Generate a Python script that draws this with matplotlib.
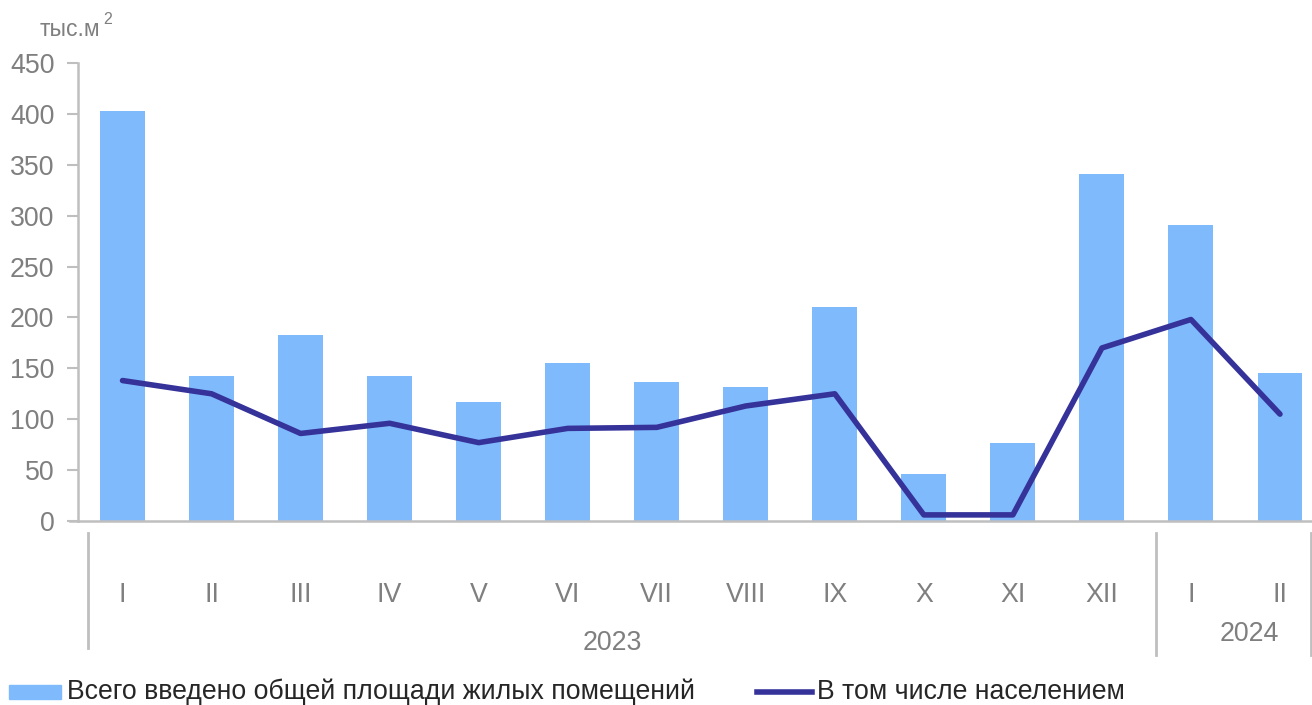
"""
    Ввод жилья по месяцам, 2023-2024
"""

import matplotlib
matplotlib.use('Agg')
import matplotlib.pyplot as plt
from matplotlib.patches import Rectangle
from matplotlib.lines import Line2D
import matplotlib.transforms as mtransforms

plt.rcParams['font.family'] = ['Liberation Sans', 'DejaVu Sans']

# data
months = ['I', 'II', 'III', 'IV', 'V', 'VI', 'VII', 'VIII', 'IX', 'X', 'XI', 'XII', 'I', 'II']
years = ['2023', '2024']
total = [403, 142, 183, 142, 117, 155, 137, 132, 210, 46, 77, 341, 291, 145]
population = [138, 125, 86, 96, 77, 91, 92, 113, 125, 6, 6, 170, 198, 105]
yticks = [0, 50, 100, 150, 200, 250, 300, 350, 400, 450]

bar_color = '#7FBAFC'
line_color = '#35329A'
grey = '#7F7F7F'
axis_grey = '#BFBFBF'
fs = 19.3

W, H = 1312, 705
fig = plt.figure(figsize=(W / 100, H / 100), dpi=100)
ax = fig.add_axes([78 / W, (H - 521) / H, 1246.5 / W, (521 - 63) / H])

x = list(range(len(months)))
ax.bar(x, total, width=0.505, color=bar_color, zorder=2)
ax.plot(x, population, color=line_color, lw=4, solid_capstyle='round',
        solid_joinstyle='round', zorder=3)

ax.set_xlim(-0.5, len(months) - 0.5)
ax.set_ylim(0, 450)
ax.set_yticks(yticks)
ax.tick_params(axis='y', labelsize=fs, colors=grey, length=8, width=1.5,
               color=axis_grey, pad=9)
ax.set_xticks([])

for s in ['top', 'right']:
    ax.spines[s].set_visible(False)
for s in ['left', 'bottom']:
    ax.spines[s].set_color(axis_grey)
    ax.spines[s].set_linewidth(1.8)
# bottom axis reaches left past the y axis
ax.plot([-0.59, -0.5], [0, 0], color=axis_grey, lw=1.8, clip_on=False,
        transform=ax.transData)

# month labels
trans = mtransforms.blended_transform_factory(ax.transData, fig.transFigure)
for i, m in enumerate(months):
    ax.text(i, (H - 595) / H, m, transform=trans, ha='center', va='center',
            fontsize=fs, color=grey)

# year group labels and separators
ax.text(5.5, (H - 643) / H, years[0], transform=trans, ha='center',
        va='center', fontsize=fs, color=grey)
ax.text(12.65, (H - 634) / H, years[1], transform=trans, ha='center',
        va='center', fontsize=fs, color=grey)
for xs, y0 in [(-0.39, 648), (11.61, 655), (13.35, 655)]:
    ax.plot([xs, xs], [(H - 533) / H, (H - y0) / H], transform=trans,
            color=axis_grey, lw=2, clip_on=False)

# unit label
fig.text(40 / W, (H - 36) / H, 'тыс.м', fontsize=16.5, color=grey,
         ha='left', va='baseline')
fig.text(103 / W, (H - 24) / H, '2', fontsize=11.5, color=grey,
         ha='left', va='baseline')

# legend
fig.patches.append(Rectangle((9 / W, (H - 699) / H), 52 / W, 14 / H,
                             transform=fig.transFigure, color=bar_color))
fig.text(67 / W, (H - 692) / H, 'Всего введено общей площади жилых помещений',
         fontsize=19.2, color='#262626', ha='left', va='center')
fig.lines.append(Line2D([757 / W, 812 / W], [(H - 692) / H, (H - 692) / H],
                        transform=fig.transFigure, color=line_color, lw=4))
fig.text(817 / W, (H - 692) / H, 'В том числе населением',
         fontsize=19.2, color='#262626', ha='left', va='center')

fig.savefig('out.png', dpi=100)
